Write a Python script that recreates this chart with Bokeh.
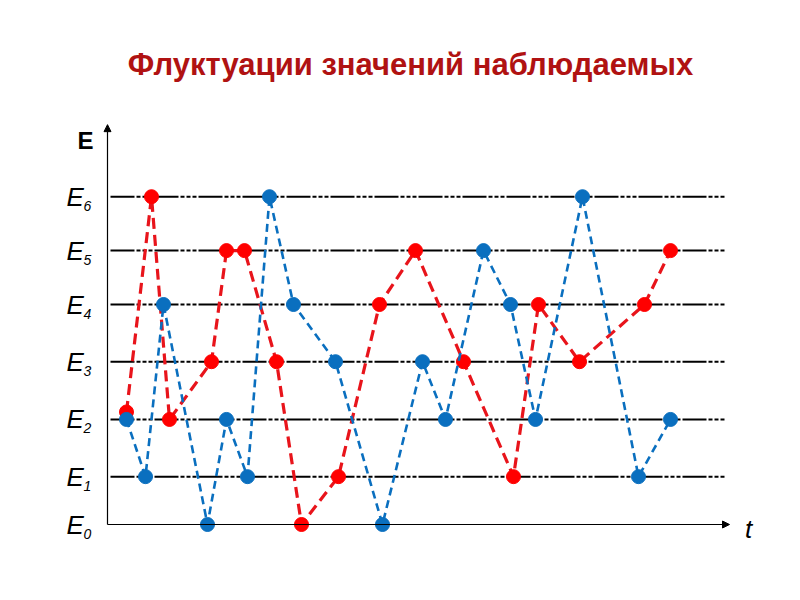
from bokeh.plotting import figure
from bokeh.models import Arrow, NormalHead, Range1d
from bokeh.core.properties import value
from bokeh.embed import file_html
from bokeh.resources import INLINE

# ---- data ----
title_text = "Флуктуации значений наблюдаемых"
level_names = ["0", "1", "2", "3", "4", "5", "6"]
level_values = [0.0, 0.87, 1.91, 2.96, 4.0, 4.98, 5.96]

red_t = [1.9, 4.4, 6.2, 10.4, 11.9, 13.7, 16.9, 19.4, 23.1, 27.2, 30.8, 35.6, 40.6, 43.1, 47.2, 53.7, 56.3]
red_level = [2.13, 6, 2, 3, 5, 5, 3, 0, 1, 4, 5, 3, 1, 4, 3, 4, 5]

blue_t = [1.9, 3.8, 5.6, 10.0, 11.9, 14.0, 16.2, 18.6, 22.8, 27.5, 31.5, 33.8, 37.6, 40.3, 42.8, 47.5, 53.1, 56.3]
blue_level = [2, 1, 4, 0, 2, 1, 6, 4, 3, 0, 3, 2, 5, 4, 2, 6, 1, 2]


def to_energy(lv):
    base = int(lv)
    frac = lv - base
    e = level_values[base]
    if frac:
        e += frac * (level_values[min(base + 1, 6)] - level_values[base])
    return e


red_e = [to_energy(v) for v in red_level]
blue_e = [to_energy(v) for v in blue_level]

W, H = 784, 584
# pixel scale: 10 px per t unit, 55 px per energy unit
x0_page, y0_page = 107, 524
off = 0
px_t, px_e = 10.0, 55.0
x_start = (off - x0_page) / px_t
x_end = (off + W - x0_page) / px_t
y_end = (y0_page - off) / px_e
y_start = (y0_page - (off + H)) / px_e

p = figure(width=W, height=H, output_backend="svg", toolbar_location=None,
           x_range=Range1d(x_start, x_end), y_range=Range1d(y_start, y_end),
           min_border=0, min_border_left=0, min_border_right=0,
           min_border_top=0, min_border_bottom=0)
p.axis.visible = False
p.grid.visible = False
p.outline_line_color = None
p.background_fill_color = "white"
p.border_fill_color = "white"

# level lines
t_line_start, t_line_end = 0.3, 61.8
for e in level_values[1:]:
    p.line([t_line_start, t_line_end], [e, e], line_color="black",
           line_width=2, line_dash="24 2 4 2 4 2 4 2")

# axes with arrows
p.add_layout(Arrow(end=NormalHead(size=7, fill_color="black", line_color="black"),
                   x_start=0, y_start=0, x_end=0, y_end=7.27,
                   line_color="black", line_width=1.2))
p.add_layout(Arrow(end=NormalHead(size=7, fill_color="black", line_color="black"),
                   x_start=0, y_start=0, x_end=62.2, y_end=0,
                   line_color="black", line_width=1.2))

# series
red_line = "#E8141B"
red_fill = "#FF0000"
blue_col = "#0A6FBF"
p.line(red_t, red_e, line_color=red_line, line_width=3.2, line_dash="11 6")
p.scatter(red_t, red_e, size=14, fill_color=red_fill, line_color=red_fill)
p.line(blue_t, blue_e, line_color=blue_col, line_width=2.6, line_dash="8 5")
p.scatter(blue_t, blue_e, size=14, fill_color=blue_col, line_color=blue_col)

# level labels
lab_t = (66 - x0_page) / px_t
sub_t = (83 - x0_page) / px_t
p.text(x=[lab_t] * len(level_values), y=level_values, text=["E"] * len(level_values),
       text_font=value("Liberation Sans"), text_font_style="italic",
       text_font_size="26px", text_align="left", text_baseline="middle",
       text_color="black")
p.text(x=[sub_t] * len(level_values), y=[e - 9 / px_e for e in level_values],
       text=level_names, text_font=value("Liberation Sans"),
       text_font_style="italic", text_font_size="14px", text_align="left",
       text_baseline="middle", text_color="black")

# axis labels
p.text(x=[(77 - x0_page) / px_t], y=[(y0_page - 140) / px_e], text=["E"],
       text_font=value("Liberation Sans"), text_font_style="bold",
       text_font_size="24px", text_align="left", text_baseline="middle",
       text_color="black")
p.text(x=[(748 - x0_page) / px_t], y=[(y0_page - 528) / px_e], text=["t"],
       text_font=value("Liberation Sans"), text_font_style="italic",
       text_font_size="26px", text_align="center", text_baseline="middle",
       text_color="black")

# title
p.text(x=[(410 - x0_page) / px_t], y=[(y0_page - 64) / px_e], text=[title_text],
       text_font=value("Liberation Sans"), text_font_style="bold",
       text_font_size="31px", text_align="center", text_baseline="middle",
       text_color="#B01212")

open("out.html", "w").write(file_html(p, INLINE))
